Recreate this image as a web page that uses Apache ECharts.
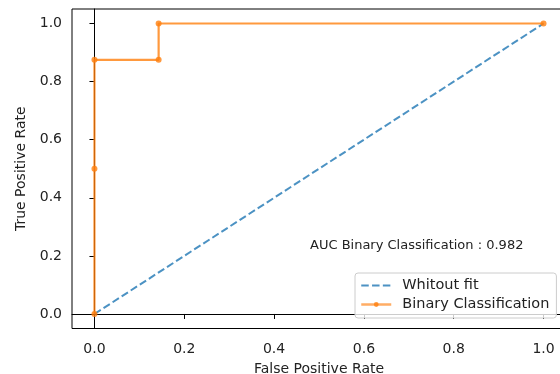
<!DOCTYPE html>
<html>
<head>
<meta charset="utf-8">
<title>ROC</title>
<script src="https://cdn.jsdelivr.net/npm/echarts@6/dist/echarts.min.js"></script>
<style>
  html, body { margin: 0; padding: 0; background: #fff; }
  #chart { width: 560px; height: 374px; }
</style>
</head>
<body>
<div id="chart"></div>
<script>
// data
var rocFpr = [0, 0, 0, 0.1429, 0.1429, 1];
var rocTpr = [0, 0.5, 0.875, 0.875, 1, 1];
var diagFpr = [0, 1];
var diagTpr = [0, 1];
var xTicks = [0, 0.2, 0.4, 0.6, 0.8, 1.0];
var yTicks = [0, 0.2, 0.4, 0.6, 0.8, 1.0];
var aucText = 'AUC Binary Classification : 0.982';
var aucPos = [0.48, 0.237];

function pairs(xs, ys) {
    var out = [];
    for (var i = 0; i < xs.length; i++) out.push([xs[i], ys[i]]);
    return out;
}

var font = 'DejaVu Sans';
var chart = echarts.init(document.getElementById('chart'), null, { renderer: 'canvas' });

var option = {
    animation: false,
    textStyle: { fontFamily: font },
    // axes box runs a bit past the right edge of the picture
    grid: {
        left: 72, top: 9, width: 494, height: 319.5,
        outerBoundsMode: 'none', containLabel: false,
        show: true, borderColor: '#000', borderWidth: 1
    },
    xAxis: {
        type: 'value', min: -0.05, max: 1.05,
        name: 'False Positive Rate', nameLocation: 'middle', nameGap: 34,
        nameTextStyle: { fontFamily: font, fontSize: 14, color: '#222' },
        axisLine: { show: true, lineStyle: { color: '#000', width: 1 } },
        axisTick: { show: true, length: 5, customValues: xTicks, lineStyle: { color: '#000' } },
        axisLabel: {
            customValues: xTicks, margin: 14, fontFamily: font, fontSize: 14, color: '#222',
            formatter: function (v) { return v.toFixed(1); }
        },
        splitLine: { show: false }
    },
    yAxis: {
        type: 'value', min: -0.05, max: 1.05,
        name: 'True Positive Rate', nameLocation: 'middle', nameGap: 42,
        nameTextStyle: { fontFamily: font, fontSize: 14, color: '#222' },
        axisLine: { show: true, lineStyle: { color: '#000', width: 1 } },
        axisTick: { show: true, length: 5, customValues: yTicks, lineStyle: { color: '#000' } },
        axisLabel: {
            customValues: yTicks, margin: 10, fontFamily: font, fontSize: 14, color: '#222',
            formatter: function (v) { return v.toFixed(1); }
        },
        splitLine: { show: false }
    },
    legend: {
        orient: 'vertical', left: 355, top: 273,
        padding: [5, 7, 6, 5],
        itemWidth: 30, itemHeight: 6, itemGap: 4,
        backgroundColor: 'rgba(255,255,255,0.8)',
        borderColor: '#ccc', borderWidth: 1, borderRadius: 3,
        textStyle: { fontFamily: font, fontSize: 14.5, color: '#222', padding: [0, 0, 0, 6] },
        data: [
            { name: 'Whitout fit', itemStyle: { color: 'rgba(0,0,0,0)', borderWidth: 0 }, lineStyle: { width: 2.2 } },
            { name: 'Binary Classification', lineStyle: { width: 2.5, color: 'rgba(255,127,14,0.8)' } }
        ]
    },
    series: [
        {
            name: 'Whitout fit', type: 'line',
            data: pairs(diagFpr, diagTpr),
            symbol: 'none',
            lineStyle: { color: '#1f77b4', width: 2, type: [7.5, 3.3], opacity: 0.8 },
            itemStyle: { color: '#1f77b4', opacity: 0.8 },
            z: 2
        },
        {
            name: 'Binary Classification', type: 'line',
            data: pairs(rocFpr, rocTpr),
            symbol: 'circle', symbolSize: 6, showSymbol: true,
            lineStyle: { color: '#ff7f0e', width: 2.2, opacity: 0.8 },
            itemStyle: { color: '#ff7f0e', opacity: 0.8 },
            z: 3
        }
    ]
};
chart.setOption(option);

// AUC annotation anchored in data coordinates
var p = chart.convertToPixel({ gridIndex: 0 }, aucPos);
chart.setOption({
    graphic: [{
        type: 'text', x: p[0], y: p[1],
        style: {
            text: aucText, fontFamily: font, fontSize: 13, fill: '#222',
            textAlign: 'left', textVerticalAlign: 'middle'
        }
    }]
});
</script>
</body>
</html>
